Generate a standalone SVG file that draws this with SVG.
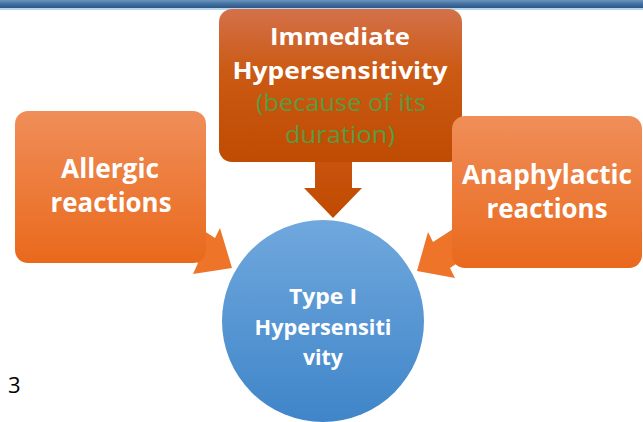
<svg xmlns="http://www.w3.org/2000/svg" width="643" height="422" viewBox="0 0 643 422">
<defs>
<linearGradient id="bar" x1="0" y1="0" x2="0" y2="1"><stop offset="0" stop-color="#6c95bf"/><stop offset="0.5" stop-color="#42709e"/><stop offset="1" stop-color="#2c5887"/></linearGradient>
<linearGradient id="side" x1="0" y1="0" x2="0" y2="1"><stop offset="0" stop-color="#f08e59"/><stop offset="1" stop-color="#e9691c"/></linearGradient>
<linearGradient id="top" x1="0" y1="0" x2="0" y2="1"><stop offset="0" stop-color="#d4714a"/><stop offset="0.4" stop-color="#cb5a14"/><stop offset="1" stop-color="#c04b02"/></linearGradient>
<linearGradient id="down" x1="0" y1="0" x2="0" y2="1"><stop offset="0" stop-color="#cb5510"/><stop offset="1" stop-color="#bf4a00"/></linearGradient>
<linearGradient id="circ" x1="0" y1="0" x2="0" y2="1"><stop offset="0" stop-color="#70a8dd"/><stop offset="1" stop-color="#3f85c9"/></linearGradient>
<style>
.w{font-family:"Open Sans","Liberation Sans",sans-serif;font-weight:bold;fill:#ffffff;text-anchor:middle}
.g{font-family:"Open Sans","Liberation Sans",sans-serif;fill:#5b9a3f;text-anchor:middle}
</style>
</defs>
<rect x="0" y="0" width="643" height="8" fill="url(#bar)"/>
<rect x="0" y="8" width="643" height="2" fill="#b7d5ef"/>
<g id="connectors">
<polygon points="315,150 352,150 352,188 362,188 333,218 304,188 315,188" fill="url(#down)"/>
<polygon points="181,216 215,238 220,228 232,268 193,274 198,263 165,242" fill="#ed7428"/>
<polygon points="467,220 433,242 428,232 417,271 455,278 450,268 483,246" fill="#ed7428"/>
</g>
<g id="immediate">
<rect x="219" y="9" width="243" height="153" rx="13" fill="url(#top)"/>
<text class="w" x="340" y="45" font-size="24" textLength="140" lengthAdjust="spacingAndGlyphs">Immediate</text>
<text class="w" x="340" y="79" font-size="24" textLength="215" lengthAdjust="spacingAndGlyphs">Hypersensitivity</text>
<text class="g" x="341" y="111" font-size="24" textLength="170" lengthAdjust="spacingAndGlyphs">(because of its</text>
<text class="g" x="340" y="143" font-size="24" textLength="110" lengthAdjust="spacingAndGlyphs">duration)</text>
</g>
<g id="allergic">
<rect x="15" y="111" width="191" height="152" rx="13" fill="url(#side)"/>
<text class="w" x="110" y="178" font-size="26" textLength="98" lengthAdjust="spacingAndGlyphs">Allergic</text>
<text class="w" x="111" y="212" font-size="26" textLength="121" lengthAdjust="spacingAndGlyphs">reactions</text>
</g>
<g id="anaphylactic">
<rect x="452" y="116" width="190" height="152" rx="13" fill="url(#side)"/>
<text class="w" x="547" y="184" font-size="26" textLength="170" lengthAdjust="spacingAndGlyphs">Anaphylactic</text>
<text class="w" x="547" y="218" font-size="26" textLength="121" lengthAdjust="spacingAndGlyphs">reactions</text>
</g>
<g id="type1">
<circle cx="323" cy="321" r="101" fill="url(#circ)"/>
<text class="w" x="323" y="304" font-size="21" textLength="68" lengthAdjust="spacingAndGlyphs">Type I</text>
<text class="w" x="323" y="335" font-size="21" textLength="137" lengthAdjust="spacingAndGlyphs">Hypersensiti</text>
<text class="w" x="323" y="365" font-size="21" textLength="40" lengthAdjust="spacingAndGlyphs">vity</text>
</g>
<text x="8" y="393" font-family="Open Sans, Liberation Sans, sans-serif" font-size="22" fill="#000000">3</text>
</svg>
